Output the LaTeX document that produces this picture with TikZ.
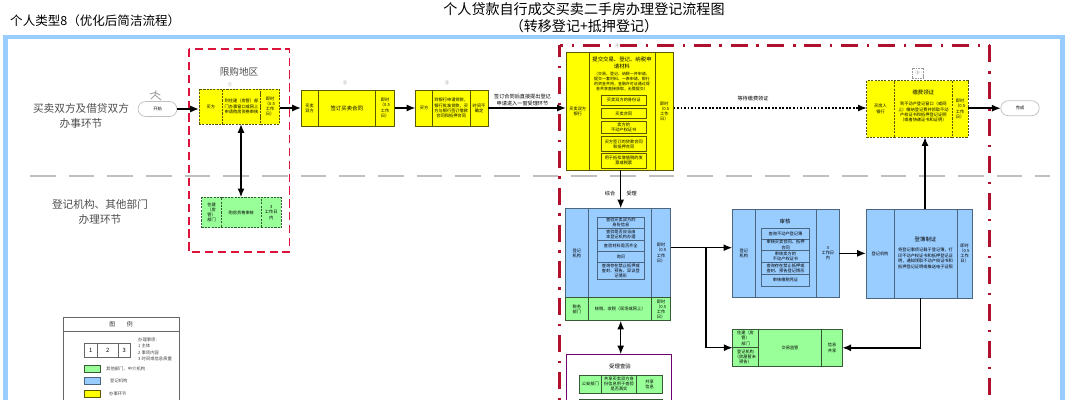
\documentclass[tikz,border=0pt]{standalone}
\usepackage{fontspec}
\setmainfont{Noto Sans CJK SC}
\usetikzlibrary{positioning, arrows.meta}
\definecolor{framecol}{HTML}{99CCFF}
\definecolor{redline}{HTML}{DC143C}
\definecolor{darkred}{HTML}{B0102C}
\definecolor{yellowcol}{HTML}{FFFF00}
\definecolor{greencol}{HTML}{99FF99}
\definecolor{bluecol}{HTML}{99CCFF}
\def\pxu{0.03cm}
\newcommand{\fsmall}{\fontsize{3.6}{4.4}\selectfont}
\newcommand{\fmid}{\fontsize{4.6}{5.6}\selectfont}
\tikzset{
  cellsize/.style 2 args={minimum width=#1*\pxu, minimum height=#2*\pxu},
  cell/.style={draw, inner sep=0pt, outer sep=0pt, align=center, font=\fsmall, line width=0.55pt},
  yellowcell/.style={cell, fill=yellowcol, draw=black!65!yellowcol},
  yellowdash/.style={yellowcell, dash pattern=on 1.8pt off 1pt},
  greencell/.style={cell, fill=greencol, draw=black!65!greencol},
  greendash/.style={greencell, dash pattern=on 1.8pt off 1pt},
  bluecell/.style={cell, fill=bluecol, draw=black!50!bluecol},
  flowarrow/.style={->, line width=1.25pt},
  terminal/.style={draw=black!25, rounded corners=6.5pt, inner sep=0pt, outer sep=0pt, font=\fsmall, line width=0.6pt},
  lbl/.style={inner sep=0pt, align=center, font=\fsmall},
  sidelabel/.style={inner sep=0pt, align=center, text=black!70, font=\fontsize{9.1}{12.2}\selectfont},
  legendtext/.style={inner sep=0pt, align=left, text=black!75, font=\fontsize{3.7}{5.2}\selectfont},
  dashdotline/.style={darkred, line width=2.2pt, dash pattern=on 14.5pt off 7.5pt on 2pt off 7.5pt}
}
\begin{document}
\begin{tikzpicture}[x=0.03cm,y=-0.03cm,>={Latex[length=7.5pt,width=6pt]}]
\clip (0,0) rectangle (1069,400);
% titles
\node[inner sep=0pt, align=center, font=\fontsize{12}{14.5}\selectfont] (title) at (584,17.5) {个人贷款自行成交买卖二手房办理登记流程图\\（转移登记+抵押登记）};
\node[inner sep=0pt, anchor=west, font=\fontsize{10.7}{12}\selectfont] (typelabel) at (10,21) {个人类型8（优化后简洁流程）};
% frames and separators
\draw[framecol, line width=4pt] (5.5,37) rectangle (1062.5,430);
\draw[black!25, line width=1.6pt, dash pattern=on 22pt off 11pt] (30,176) -- (1050,176);
\draw[redline, line width=1.1pt, dash pattern=on 7pt off 4pt] (189,49) rectangle (289.5,252);
\draw[dashdotline, dash phase=11.5pt] (559.5,45.5) -- (989.5,45.5);
\draw[dashdotline] (989.5,45.5) -- (989.5,430);
\draw[dashdotline, dash phase=4.7pt] (559.5,45.5) -- (559.5,430);
% side labels
\node[sidelabel] (buyers) at (81,116) {买卖双方及借贷双方\\办事环节};
\node[sidelabel] (offices) at (100,212) {登记机构、其他部门\\办理环节};
% start, with the small runner
\draw[black!35, line width=0.8pt, line cap=round] (156,90.5) -- (155,95) -- (151,99) (155,95) -- (161,100) (150,94) -- (155,92.5) -- (160,95);
\node[terminal, cellsize={39}{15}] (start) at (157.5,109) {开始};
\node[inner sep=0pt, text=black!70, font=\fontsize{8.2}{10}\selectfont] (limit) at (239,72) {限购地区};
\node[lbl, text=black!55] (no1) at (230,85) {①};
% first row
\node[yellowdash, cellsize={23.5}{35}, anchor=north west] (b1a) at (199,89) {买方};
\node[yellowdash, cellsize={38}{35}, right=0pt of b1a] (b1b) {到住建（房管）部\\门办事窗口或网上\\申请购房资格审核};
\node[yellowdash, cellsize={19}{35}, right=0pt of b1b] (b1c) {即时\\（0.5\\工作\\日）};
\node[lbl, text=black!55] (no2) at (345,83) {②};
\node[yellowcell, cellsize={17}{36}, anchor=north west] (b2a) at (301,90) {买卖\\双方};
\node[yellowcell, cellsize={57.5}{36}, font=\fmid, right=0pt of b2a] (b2b) {签订买卖合同};
\node[yellowcell, cellsize={19}{36}, right=0pt of b2b] (b2c) {即时\\（0.5\\工作\\日）};
\node[lbl, text=black!55] (no3) at (447,83) {③};
\node[yellowcell, cellsize={17}{36}, anchor=north west] (b3a) at (415.5,90) {买方};
\node[yellowcell, cellsize={37.5}{36}, right=0pt of b3a] (b3b) {到银行申请贷款，\\银行批准贷款，买\\方与银行签订借款\\合同和抵押合同};
\node[yellowcell, cellsize={18}{36}, right=0pt of b3b] (b3c) {时间不\\确定};
\node[lbl, font=\fontsize{4.4}{5.3}\selectfont] (signnote) at (522.5,100) {签订合同后直接提出登记\\申请进入一窗受理环节};
% submit materials
\node[lbl, text=black!55] (no4) at (617.5,45.5) {④};
\node[yellowcell, cellsize={23.5}{118.5}, anchor=north west] (b4a) at (566,52) {买卖双方\\银行};
\node[yellowcell, cellsize={65.5}{118.5}, right=0pt of b4a] (b4b) {};
\node[yellowcell, cellsize={18.5}{118.5}, right=0pt of b4b] (b4c) {即时\\（0.5\\工作\\日）};
\node[lbl, font=\fmid] (b4title) at (622,63) {提交交易、登记、纳税申\\请材料};
\node[lbl, font=\fontsize{3.4}{4}\selectfont] (b4note) at (622,81.5) {（交易、登记、纳税一并申请、\\提交一套材料、一表申请，银行\\的资金共用，金融许可证通过得\\息共享直接获取，无需提交）};
\node[yellowcell, cellsize={45.5}{10.5}, anchor=north west] (m1) at (601,95) {买卖双方的身份证};
\node[yellowcell, cellsize={45.5}{10.5}, anchor=north west] (m2) at (601,108.2) {买卖合同};
\node[yellowcell, cellsize={45.5}{11.5}, anchor=north west] (m3) at (601,121.7) {卖方的\\不动产权证书};
\node[yellowcell, cellsize={45.5}{15}, anchor=north west] (m4) at (601,136.7) {买方签订的贷款合同\\和抵押合同};
\node[yellowcell, cellsize={45.5}{15}, anchor=north west] (m5) at (601,153.3) {用于抵扣增值税的发\\票或税票};
\node[lbl, font=\fontsize{4.4}{5.3}\selectfont] (waitnote) at (753,99) {等待缴费领证};
% pay and collect
\node[draw=black!40, dash pattern=on 1.5pt off 0.8pt, inner sep=0pt, minimum width=11*\pxu, minimum height=10*\pxu, font=\fsmall, text=black!55] (no5) at (917.7,73) {⑤};
\node[yellowdash, cellsize={27.5}{56.5}, anchor=north west] (b5a) at (866.8,80.7) {买房人\\银行};
\node[yellowdash, cellsize={58}{56.5}, right=0pt of b5a] (b5b) {};
\node[yellowdash, cellsize={15.7}{56.5}, right=0pt of b5b] (b5c) {即时\\（0.5\\工作\\日）};
\node[lbl, font=\fmid] (b5title) at (923.3,92.5) {缴费领证};
\node[lbl] (b5text) at (923.3,112) {到不动产登记窗口（或网\\上）缴纳登记费并领取不动\\产权证书和抵押登记证明\\（或者快递证书和证明）};
\node[terminal, cellsize={38.5}{15}] (finish) at (1020,108.2) {完成};
% purchase check
\node[greendash, cellsize={19.6}{30.5}, anchor=north west] (g1a) at (201.7,197.3) {住建\\（房\\管）\\部门};
\node[greendash, cellsize={40}{30.5}, right=0pt of g1a] (g1b) {购房资格审核};
\node[greendash, cellsize={20}{30.5}, right=0pt of g1b] (g1c) {3\\工作日\\内};
% acceptance
\node[bluecell, cellsize={23.7}{89.4}, anchor=north west] (b6a) at (565,208.3) {登记\\机构};
\node[bluecell, cellsize={63}{89.4}, right=0pt of b6a] (b6b) {};
\node[bluecell, cellsize={19}{89.4}, right=0pt of b6b] (b6c) {即时\\（0.5\\工作\\日）};
\node[bluecell, cellsize={47}{11}, anchor=north west] (r1) at (597.3,217.3) {查验买卖双方的\\身份信息};
\node[bluecell, cellsize={47}{11.7}, below=0pt of r1] (r2) {查验是否应当由\\本登记机构办理};
\node[bluecell, cellsize={47}{11.7}, below=0pt of r2] (r3) {查验材料是否齐全};
\node[bluecell, cellsize={47}{10.6}, below=0pt of r3] (r4) {询问};
\node[bluecell, cellsize={47}{17.4}, below=0pt of r4] (r5) {查询存在禁止抵押或\\查封、预告、异议登\\记情形};
\node[greencell, cellsize={23.7}{23}, below=0pt of b6a] (t6a) {税务\\部门};
\node[greencell, cellsize={63}{23}, below=0pt of b6b] (t6b) {核税、收税（现场或网上）};
\node[greencell, cellsize={19}{23}, below=0pt of b6c] (t6c) {即时\\（0.5\\工作\\日）};
\node[lbl, font=\fontsize{4.4}{5.3}\selectfont] (comb) at (610,194) {综合};
\node[lbl, font=\fontsize{4.4}{5.3}\selectfont] (acc) at (631.7,194) {受理};
% review
\node[bluecell, cellsize={23}{88.7}, anchor=north west] (b7a) at (732.3,209) {登记\\机构};
\node[bluecell, cellsize={61.4}{88.7}, right=0pt of b7a] (b7b) {};
\node[bluecell, cellsize={22.3}{88.7}, right=0pt of b7b] (b7c) {3\\工作日\\内};
\node[lbl, font=\fmid] (b7title) at (785,221) {审核};
\node[bluecell, cellsize={47.6}{10.7}, anchor=north west] (s1) at (761.7,228.3) {查询不动产登记簿};
\node[bluecell, cellsize={47.6}{11.7}, below=0pt of s1] (s2) {审核买卖合同、抵押\\合同};
\node[bluecell, cellsize={47.6}{11.6}, below=0pt of s2] (s3) {审核卖方的\\不动产权证书};
\node[bluecell, cellsize={47.6}{11.7}, below=0pt of s3] (s4) {查询存在禁止抵押或\\查封、预告登记情形};
\node[bluecell, cellsize={47.6}{12.7}, below=0pt of s4] (s5) {审核缴税凭证};
% registration
\node[bluecell, cellsize={28}{89}, anchor=north west] (b9a) at (866,209) {登记机构};
\node[bluecell, cellsize={63}{89}, right=0pt of b9a] (b9b) {};
\node[bluecell, cellsize={15}{89}, right=0pt of b9b] (b9c) {即时\\（0.5\\工作\\日）};
\node[lbl, font=\fmid] (b9title) at (925.5,239) {登簿制证};
\node[lbl, font=\fontsize{3.6}{4.7}\selectfont] (b9text) at (925.5,258.5) {将登记事项记载于登记簿，打\\印不动产权证书和抵押登记证\\明，通知领取不动产权证书和\\抵押登记证明或推送电子证照};
% supervision
\node[greencell, cellsize={25.6}{18.7}, anchor=north west] (b8a) at (732.7,329) {住建（房\\管）\\部门};
\node[greencell, cellsize={25.6}{19}, below=0pt of b8a] (b8d) {登记机构\\（房屋暂未\\预告）};
\node[greencell, cellsize={63.4}{37.7}, anchor=north west] (b8b) at (758.3,329) {交易监管};
\node[greencell, cellsize={20.6}{37.7}, right=0pt of b8b] (b8c) {信息\\共享};
% on-site check
\node[draw=violet!85!black, line width=0.9pt, inner sep=0pt, outer sep=0pt, minimum width=104.6*\pxu, minimum height=70*\pxu, anchor=north west] (check) at (566.7,354.3) {};
\node[lbl, font=\fmid] (checktitle) at (620,366) {受理查验};
\node[greencell, cellsize={22.7}{18}, anchor=north west] (c1a) at (579,375) {公安部门};
\node[greencell, cellsize={34.6}{18}, right=0pt of c1a] (c1b) {共享买卖双方身\\份信息用于查验\\是否真实};
\node[greencell, cellsize={26.4}{18}, right=0pt of c1b] (c1c) {共享\\信息};
\node[greencell, cellsize={22.7}{18}, anchor=north west] (c2a) at (579,399) {};
\node[greencell, cellsize={34.6}{18}, right=0pt of c2a] (c2b) {};
\node[greencell, cellsize={26.4}{18}, right=0pt of c2b] (c2c) {};
% connectors
\draw[flowarrow] (start.east) -- (start.east -| b1a.west);
\draw[flowarrow] (b1c.east |- b2a.west) -- (b2a.west);
\draw[flowarrow] (b2c.east) -- (b3a.west);
\draw[flowarrow] (b3c.east) -- (b3c.east -| b4a.west);
\draw[flowarrow, dash pattern=on 1.6pt off 1.4pt] (b4c.east |- b3c.east) -- (b5a.west |- b3c.east);
\draw[flowarrow] (b5c.east |- finish.west) -- (finish.west);
\draw[flowarrow, <->] (241,124) -- (241,197.3);
\draw[flowarrow] (620.7,170.5) -- (620.7,208.3);
\draw[flowarrow, <->] (620.7,320.7) -- (620.7,354.3);
\coordinate (branch) at (706,247.7);
\draw[flowarrow] (b6c.east |- branch) -- (b7a.west |- branch);
\draw[flowarrow] (branch) |- (b8a.south west);
\draw[flowarrow] (b7c.east) -- (b7c.east -| b9a.west);
\draw[flowarrow] (925,209) -- (925,137.2);
\coordinate (toshare) at (920.7,347.8);
\draw[flowarrow] (920.7,298) -- (toshare) -- (toshare -| b8c.east);
% legend
\draw[black!60, line width=0.5pt] (63.3,317.3) rectangle (179,430);
\draw[black!60, line width=0.5pt] (63.3,331.7) -- (179,331.7);
\node[inner sep=0pt, text=black!80, font=\fontsize{5}{6}\selectfont] (legtitle) at (121,324.5) {图\qquad 例};
\node[cell, cellsize={12.7}{14.4}, anchor=north west, font=\fontsize{5}{6}\selectfont, draw=black!60] (l1) at (84.3,343.3) {1};
\node[cell, cellsize={21.3}{14.4}, right=0pt of l1, font=\fontsize{5}{6}\selectfont, draw=black!60] (l2) {2};
\node[cell, cellsize={11.7}{14.4}, right=0pt of l2, font=\fontsize{5}{6}\selectfont, draw=black!60] (l3) {3};
\node[legendtext, anchor=north west] (legnote) at (138,338) {办理事项:\\1 主体\\2 事项内容\\3 时间或信息质量};
\node[greencell, cellsize={16}{7}, anchor=north west] (ls1) at (84.7,365) {};
\node[legendtext, anchor=west] (lt1) at (106,368.5) {其他部门、中介机构};
\node[bluecell, cellsize={16}{7}, anchor=north west] (ls2) at (84.7,377.5) {};
\node[legendtext, anchor=west] (lt2) at (110,381) {登记机构};
\node[yellowcell, cellsize={16}{7}, anchor=north west] (ls3) at (84.7,390) {};
\node[legendtext, anchor=west] (lt3) at (109,393.5) {办事环节};
\end{tikzpicture}
\end{document}
